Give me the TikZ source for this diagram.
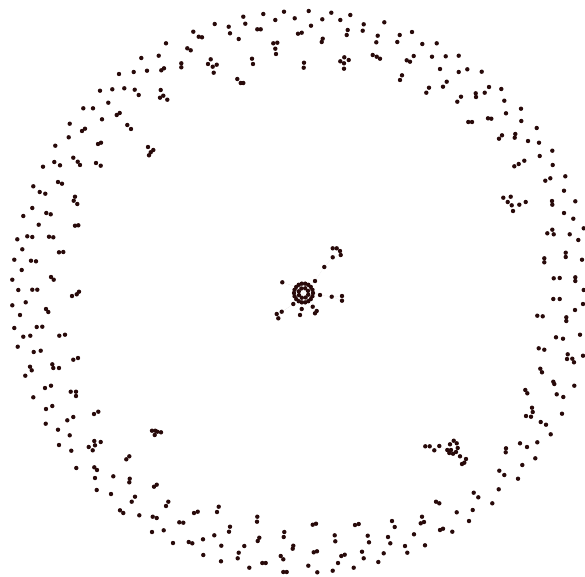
\documentclass[tikz,border=0pt]{standalone}
\usepackage{tikz}
\usepackage{xcolor}
\definecolor{vertex}{RGB}{40,10,10}
\definecolor{edge}{RGB}{175,170,170}

\begin{document}
\begin{tikzpicture}[x=1pt, y=-1pt,
  dot/.style={circle, fill=vertex, inner sep=0pt, minimum size=4.4pt},
  link/.style={edge, very thin, densely dotted}]
  \useasboundingbox (0,0) rectangle (585,576);

  % Outer ring: upper left arc
  \foreach \x/\y [count=\i] in {284/11.7, 275.3/20, 263.3/14, 243.3/16.7, 245.3/23.7, 228.7/26.7, 230/33.3, 214.7/24, 257.3/29.3, 260.7/29.3,
      238.7/39, 273.3/43.3, 277.3/42.7, 275.3/48.7, 276/54, 252/58.7, 253/64, 193.3/31.7, 198.7/36.7, 202/37.3,
      166/43.3, 187.3/48.3, 190.7/50.3, 210.7/59.3, 208/64, 212.7/66.7, 216.7/64.7, 213.7/72.7, 237.3/79, 240.7/83,
      243.3/83, 158.7/55.7, 141.3/58, 181.3/63.3, 181.3/67.3, 161.3/70.3, 164/68.3, 147/70.7, 133.7/72, 119/74,
      100/90.7, 112.3/89.3, 124.3/88.3, 134.7/89.7, 138.7/95, 160.7/90, 160/97.7, 163.3/95.7, 167.3/99.7, 83.3/108.3,
      93/108.3, 108.3/102.7, 102/119.3, 116.7/115, 119.7/113, 127.3/125, 131/129, 69.7/123.7, 82/131, 85/128.7,
      68.7/137.3, 98/144, 101/142.7, 148/147, 153.3/150, 150.7/152.3, 149/155.3, 55.3/145.7, 73.3/157.7, 77.7/161.7,
      80/165, 54.3/162, 60/165.3, 96/163, 100.7/165.7, 43/166.7, 58/182, 62/183.7, 33.3/186.3, 39.7/192, 45.3/193.7}
    \node[dot] (nw\i) at (\x,\y) {};

  % Outer ring: upper right arc
  \foreach \x/\y [count=\i] in {294.7/18.3, 308.7/11, 322.3/19.3, 331.3/12.7, 340.3/20, 350.3/15, 311/25.7, 298/33.7, 301.7/32.7, 321.7/42,
      322.7/38.7, 347.7/30, 346.7/35, 363.7/24.3, 362.7/30.7, 384.3/22.3, 377.7/35.7, 376.3/42.3, 399.7/35, 397.3/42,
      412/32, 304/62.7, 303.7/67.7, 340.3/61.3, 344.3/57.3, 348.7/60, 344/63.3, 344/68.7, 372.7/55, 376.7/56.7,
      380/58.7, 422.3/44, 436.7/43.3, 406.7/60.3, 410/61.7, 413.7/56, 432/56.7, 445.7/56.3, 458.7/55.7, 440/69,
      458.7/72, 467.3/69.3, 481.7/71.7, 402/75.3, 400/80, 429/87.7, 426.3/92.7, 446.7/81.7, 443/86.7, 461/96.7,
      457.3/101.7, 475.7/93.3, 476/97, 484.7/92.7, 489/87, 501.3/89, 504.3/100.7, 521/108.7, 506/113.3, 521.3/121,
      468.3/122, 472/122, 488/118.3, 491.3/118.7, 536.7/128, 502/135.3, 499/138.7, 515.3/134, 514.7/137.7, 528/141,
      539/142.7, 552.3/150.7, 539.7/156, 552.7/165, 524.3/160.7, 518.7/164, 514.3/166.3, 565.3/176.3, 550.3/178.3, 545.3/180.7,
      564/190.7}
    \node[dot] (ne\i) at (\x,\y) {};

  % Outer ring: right side
  \foreach \x/\y [count=\i] in {503.3/197.7, 510.7/196.7, 507.7/202, 511.7/205.3, 513/211, 519.3/204.7, 525.7/202, 552/201, 552.3/204.7, 575.3/201.3,
      564/213, 573.3/218.7, 552.3/229.7, 553.7/234.3, 547.3/233.3, 569.7/234.3, 578.3/240, 583.7/228.3, 565.7/252.7, 565.7/257,
      544.3/258.3, 544.3/262.3, 582/259.7, 553.7/278.3, 559.7/278, 575.3/277.3, 575.3/281, 583.7/290, 553.3/299, 559.7/299,
      583/304, 575/310, 537.3/315.7, 542.7/316.3, 566.3/317.3, 566.3/321, 580/334.7, 556/337.3, 563/338.7, 538.7/348.3,
      544.3/349.7, 567.7/354.3, 567/359, 572.3/358.7, 574/362.3, 583/355.7, 540.3/368.7, 542/372.3}
    \node[dot] (ea\i) at (\x,\y) {};

  % Outer ring: left side
  \foreach \x/\y [count=\i] in {75/196.7, 73.7/200.7, 77.3/204, 32.3/208, 23.3/216, 46.3/213, 50.7/214.3, 38.7/224.7, 75/225.7, 78.3/225.3,
      17.3/239.3, 27.3/236.3, 32.3/237, 49/236.7, 53.3/237.3, 22.3/249.3, 59/252.3, 63.3/252, 14.3/259.7, 31/260.7,
      36/261.3, 21.7/270, 12.3/279.7, 51/277, 53.7/279.7, 18.3/290, 32.3/289.7, 37.3/289.7, 72/296, 76.7/294.3,
      79/291.7, 12.3/305.3, 25.7/302.3, 46/309, 48.3/312, 20/315, 14.3/328, 36.7/327, 42.3/326.7, 23.3/336.7,
      30.3/335.7, 59.3/335.7, 65/334.7, 17.7/346.7, 33.7/352, 40.7/350.7, 73.3/359.7, 78/358, 52.3/364.3, 53.3/368,
      59/368, 30/366.7, 31.7/370.3, 25.3/375.7, 45/388, 51/385.7}
    \node[dot] (we\i) at (\x,\y) {};

  % Outer ring: lower left arc
  \foreach \x/\y [count=\i] in {33.3/397.3, 70.7/391.7, 76/391.7, 76/396, 46/409, 52.3/406, 73.3/417, 67.3/420.3, 94/414, 98.3/411.7,
      45.7/423.7, 58/429.7, 69.7/435.3, 152/430.7, 155.3/430.7, 157.3/431.7, 154.7/435, 161/432.3, 59/445, 71.3/450.7,
      94.3/441, 100.7/442, 95/445.3, 88.7/447, 92.7/450.3, 126.3/459.3, 129.3/456.3, 76.3/468, 94.3/467.3, 97/470,
      95/478, 113.3/476.3, 129.7/478.7, 129.3/482.3, 96.7/490, 111/494, 154/486.7, 156.7/484.7, 131.7/501.7, 135/496.7,
      120/510.3, 123.3/513, 139.3/515.3, 152.7/516.7, 156.7/518, 166/506, 168.3/501.7, 152/532, 163.7/530.3, 179.3/522.3,
      183.3/522.7, 194/513, 197.7/511.7, 217/512, 218.7/506.7, 173/543, 188.7/542, 192.3/543.3, 203/539.3, 214.3/535.3,
      203.3/555, 221.3/545.7, 221/561.3, 229/531.7, 230/526.7, 244.3/546, 238.7/552.7, 237.7/558.3, 249.3/567.7, 257.3/516.7,
      257/521.7, 259.3/537.7, 257.7/541, 262.3/563, 265.7/563, 284.3/532, 283.7/537, 280.7/556, 283.3/559.3, 283.3/572,
      286.7/572, 293.3/545.7, 292.7/548.7}
    \node[dot] (sw\i) at (\x,\y) {};

  % Outer ring: lower right arc
  \foreach \x/\y [count=\i] in {312.7/524.7, 316/523.7, 334.7/535.3, 335.3/541.3, 313.7/552.3, 317/551.3, 308.3/565.7, 317.3/572.3, 332.7/570.7, 338/563,
      341.3/556, 344.7/554.7, 355/525, 358.7/524, 367.7/535.7, 369/542.3, 362/551.7, 363.7/558.3, 353.7/567.7, 378.3/562,
      383.7/553.3, 388/537, 390.3/543.3, 392/521, 394.7/527, 405/546, 407.3/552.7, 414/534.3, 422/516.7, 420.7/523.3,
      424/522, 425/545.3, 436/501.7, 439.3/503.3, 440/530, 443/528.7, 452.3/531.7, 456.7/512.3, 469/521, 472.7/510,
      473.7/492.7, 478.3/497.3, 492.3/503.3, 498.7/489.3, 499.3/470.7, 504.3/475, 518/478.7, 522.3/465, 535.3/458.3, 506/448.3,
      505.7/452.3, 520/443.3, 527/447, 537.3/442.3, 550.7/434.3, 540.7/422, 546/424.7, 532/407.7, 532.7/412, 526/416,
      531/416.7, 525.3/390, 527.3/393.3, 553.3/381.7, 554.3/384, 556.7/394.3, 563.3/397, 574.3/385.7, 562/413.7}
    \node[dot] (se\i) at (\x,\y) {};

  % Small cluster, lower right
  \foreach \x/\y [count=\i] in {425.3/446.3, 429.7/446.3, 434.3/450.3, 439.3/446, 447.3/450, 450/444.3, 453.7/440.7, 456.7/443.3, 457.7/448, 456/452,
      453/453.7, 449.3/453, 451/450, 460/456.3, 466/459, 464.3/462.7, 462/464}
    \node[dot] (k\i) at (\x,\y) {};
  \draw[link] (k2) -- (k3) -- (k4) -- (k5);
  \draw[link] (k9) -- (k14) -- (k15);
  \draw[link] (k14) -- (k17);

  % Central hub
  \coordinate (hub) at (303.5,293);
  \foreach \i in {1,...,18}
    \node[dot] (r\i) at ([shift={(\i*20:9.5)}]hub) {};
  \foreach \i in {1,...,8}
    \node[dot] (h\i) at ([shift={(\i*45+20:5)}]hub) {};

  % Spokes leaving the hub
  \foreach \n/\x/\y in {a1/315/281, a2/324.3/267, a3/332.7/257.3, a4/340.7/255, a5/340/251, a6/336.7/248.3, a7/332.7/248.3,
      b1/282.3/282.3, e1/320/295, e2/331.7/296.7, e3/342/296, e4/342/300.7,
      f1/293.3/304, f2/281.7/311.7, f3/276.7/314, f4/278.3/318.3,
      g1/301.7/309, g2/300/315, g3/312.7/306.7, g4/316.7/311, g5/315/313.3}
    \node[dot] (\n) at (\x,\y) {};

  \draw[link] (r15) -- (a1) -- (a2) -- (a3) -- (a4) -- (a5) -- (a6) -- (a7);
  \draw[link] (r11) -- (b1);
  \draw[link] (r18) -- (e1) -- (e2) -- (e3);
  \draw[link] (e2) -- (e4);
  \draw[link] (r7) -- (f1) -- (f2) -- (f3);
  \draw[link] (f2) -- (f4);
  \draw[link] (r5) -- (g1) -- (g2);
  \draw[link] (r2) -- (g3) -- (g4) -- (g5);
  \draw[link] (h1) -- (h5);
  \draw[link] (h2) -- (h6);
  \draw[link] (h3) -- (h7);

\end{tikzpicture}
\end{document}
